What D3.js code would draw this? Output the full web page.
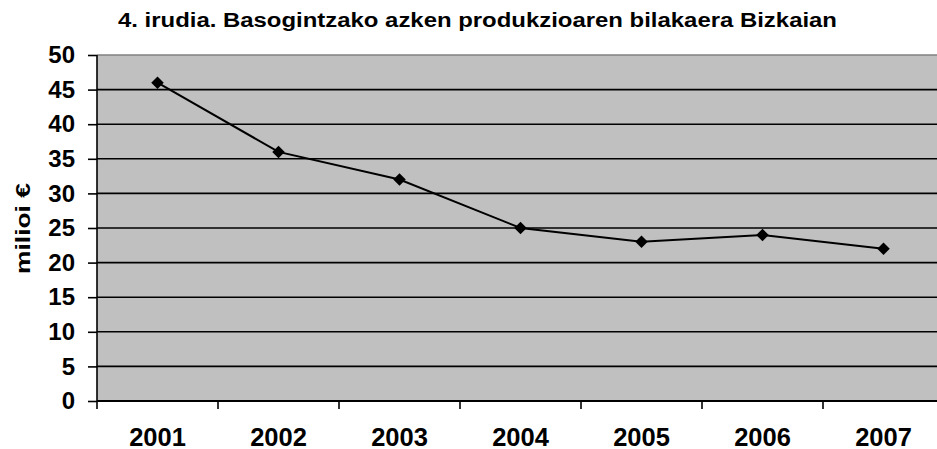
<!DOCTYPE html>
<html>
<head>
<meta charset="utf-8">
<script src="https://cdn.jsdelivr.net/npm/d3@7"></script>
<style>
  html, body { margin: 0; padding: 0; background: #fff; overflow: hidden; }
  svg { display: block; font-family: "Liberation Sans", Arial, sans-serif; }
</style>
</head>
<body>
<svg id="chart" width="937" height="449"></svg>
<script>
// Chart data
const years = ['2001', '2002', '2003', '2004', '2005', '2006', '2007'];
const production = [46, 36, 32, 25, 23, 24, 22];
const yTicks = [0, 5, 10, 15, 20, 25, 30, 35, 40, 45, 50];

const svg = d3.select('#chart');

// plot area (the right side runs past the window edge, as in the source)
const plotL = 97, plotT = 55, plotB = 401, bandW = 121;
const plotR = plotL + bandW * years.length;

const x = d3.scaleBand().domain(years).range([plotL, plotR]);
const y = d3.scaleLinear().domain([0, 50]).range([plotB, plotT]);

svg.append('rect')
  .attr('x', plotL).attr('y', plotT)
  .attr('width', plotR - plotL).attr('height', plotB - plotT)
  .attr('fill', '#c0c0c0');

// gridlines
svg.append('g')
  .selectAll('line')
  .data(yTicks.filter(d => d > 0))
  .join('line')
  .attr('x1', plotL).attr('x2', plotR)
  .attr('y1', d => y(d)).attr('y2', d => y(d))
  .attr('stroke', d => d === 50 ? '#808080' : '#000')
  .attr('stroke-width', 1.6);

// y axis
const yAxis = svg.append('g')
  .attr('transform', `translate(${plotL},0)`)
  .call(d3.axisLeft(y).tickValues(yTicks).tickSize(9).tickPadding(13));
yAxis.selectAll('path, line').attr('stroke', '#000').attr('stroke-width', 1.6);
yAxis.select('.domain').attr('d', `M0,${plotT}V${plotB}`);
yAxis.selectAll('text')
  .attr('font-size', 24).attr('font-weight', 'bold').attr('fill', '#000')
  .attr('font-family', '"Liberation Sans", Arial, sans-serif');

// x axis: ticks on the band edges
const xAxis = svg.append('g').attr('transform', `translate(0,${plotB})`);
xAxis.append('line')
  .attr('x1', plotL).attr('x2', plotR)
  .attr('stroke', '#000').attr('stroke-width', 2);
xAxis.selectAll('.tick')
  .data(years)
  .join('line')
  .attr('class', 'tick')
  .attr('x1', d => x(d)).attr('x2', d => x(d))
  .attr('y1', 0).attr('y2', 8)
  .attr('stroke', '#000').attr('stroke-width', 1.6);
xAxis.selectAll('text')
  .data(years)
  .join('text')
  .attr('x', d => x(d) + x.bandwidth() / 2)
  .attr('y', 44.5)
  .attr('text-anchor', 'middle')
  .attr('font-size', 25.5).attr('font-weight', 'bold')
  .text(d => d);

// line + diamond markers
const cx = (d, i) => x(years[i]) + x.bandwidth() / 2;
svg.append('path')
  .datum(production)
  .attr('fill', 'none')
  .attr('stroke', '#000')
  .attr('stroke-width', 2)
  .attr('d', d3.line().x(cx).y(d => y(d)));

svg.append('g')
  .selectAll('path')
  .data(production)
  .join('path')
  .attr('d', d3.symbol(d3.symbolSquare, 78))
  .attr('transform', (d, i) => `translate(${cx(d, i)},${y(d)}) rotate(45)`)
  .attr('fill', '#000');

// title (the source text is drawn wider than the font's natural width)
svg.append('text')
  .attr('x', 118).attr('y', 27)
  .attr('font-size', 19.5).attr('font-weight', 'bold')
  .attr('textLength', 719).attr('lengthAdjust', 'spacingAndGlyphs')
  .text('4. irudia. Basogintzako azken produkzioaren bilakaera Bizkaian');

// y label
svg.append('text')
  .attr('transform', 'translate(30,274) rotate(-90)')
  .attr('font-size', 20.5).attr('font-weight', 'bold')
  .attr('textLength', 91).attr('lengthAdjust', 'spacingAndGlyphs')
  .text('milioi €');
</script>
</body>
</html>
